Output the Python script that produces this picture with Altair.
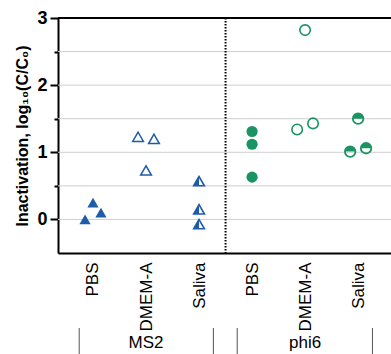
import altair as alt
import pandas as pd

# ---- data ----
media = ["PBS", "DMEM-A", "Saliva"]
viruses = ["MS2", "phi6"]
tick_labels = ["PBS", "DMEM-A", "Saliva", "PBS", "DMEM-A", "Saliva"]

ms2_pbs = [0.00, 0.25, 0.10]
ms2_dmem = [1.23, 1.20, 0.73]
ms2_saliva = [0.57, 0.15, -0.07]
phi6_pbs = [1.31, 1.12, 0.63]
phi6_dmem = [2.82, 1.34, 1.43]
phi6_saliva = [1.50, 1.01, 1.06]

jit_ms2_pbs = [-0.15, 0.0, 0.15]
jit_ms2_dmem = [-0.15, 0.15, 0.0]
jit_ms2_saliva = [0.0, 0.0, 0.0]
jit_phi6_pbs = [0.0, 0.0, 0.0]
jit_phi6_dmem = [0.0, -0.15, 0.15]
jit_phi6_saliva = [0.0, -0.15, 0.15]

rows = []
series = [
    ("MS2", "PBS", 1, ms2_pbs, jit_ms2_pbs),
    ("MS2", "DMEM-A", 2, ms2_dmem, jit_ms2_dmem),
    ("MS2", "Saliva", 3, ms2_saliva, jit_ms2_saliva),
    ("phi6", "PBS", 4, phi6_pbs, jit_phi6_pbs),
    ("phi6", "DMEM-A", 5, phi6_dmem, jit_phi6_dmem),
    ("phi6", "Saliva", 6, phi6_saliva, jit_phi6_saliva),
]
for v, m, pos, vals, jits in series:
    for val, j in zip(vals, jits):
        rows.append({"virus": v, "medium": m, "key": f"{v}|{m}", "x": pos + j, "y": val})
df = pd.DataFrame(rows)

group_centers = [2, 5]
bracket_edges = [0.74, 3.27, 3.72, 6.27]
grid_vals = [0, 0.5, 1, 1.5, 2, 2.5]

BLUE = "#1e5ba8"
GREEN = "#1a9462"
FONT = "Liberation Sans"

xscale = alt.Scale(domain=[0.34, 6.62], nice=False, zero=False)
yscale = alt.Scale(domain=[-0.5, 3], nice=False, zero=False)

label_expr = "[" + ",".join(f"'{t}'" for t in tick_labels) + "][datum.value-1]"

xaxis = alt.Axis(values=[1, 2, 3, 4, 5, 6], labelExpr=label_expr, labelAngle=270,
                 labelAlign="right", labelBaseline="middle", labelFontSize=17,
                 labelFont=FONT, labelColor="black", labelPadding=9, ticks=False,
                 grid=False, domainColor="black", domainWidth=2, title=None,
                 labelOverlap=False)

# grid + minor ticks axis
grid_df = pd.DataFrame({"y": grid_vals})
grid = alt.Chart(grid_df).mark_rule(color="#cfcfcf", strokeWidth=1).encode(
    y=alt.Y("y:Q", scale=yscale,
            axis=alt.Axis(values=[0.5, 1.5, 2.5], labels=False, tickSize=4, tickWidth=2,
                          tickColor="black", domain=False, grid=False, title=None,
                          orient="left")),
)

base = alt.Chart(df)
Xmain = alt.X("x:Q", scale=xscale, axis=xaxis)
X = alt.X("x:Q", scale=xscale)
Ymain = alt.Y("y:Q", scale=yscale,
              axis=alt.Axis(values=[0, 1, 2, 3], format="d", tickSize=8, tickWidth=2,
                            tickColor="black",
                            labelFontSize=18, labelFontWeight="bold", labelFont=FONT,
                            labelColor="black", labelPadding=3, domainColor="black",
                            domainWidth=2, grid=False, orient="left",
                            title="Inactivation, log\u2081\u2080(C/C\u2080)",
                            titleFont=FONT, titleFontSize=16, titleFontWeight="bold",
                            titleColor="black", titlePadding=6))
Y = alt.Y("y:Q", scale=yscale, axis=None)

def sel(k):
    return alt.datum.key == k

filled_tri = base.transform_filter(sel("MS2|PBS")).mark_point(
    shape="triangle-up", filled=True, size=125, color=BLUE, opacity=1).encode(x=Xmain, y=Ymain)
open_tri = base.transform_filter(sel("MS2|DMEM-A")).mark_point(
    shape="triangle-up", filled=False, size=115, color=BLUE, strokeWidth=1.5, opacity=1).encode(x=X, y=Y)
half_tri_o = base.transform_filter(sel("MS2|Saliva")).mark_point(
    shape="triangle-up", filled=False, size=115, color=BLUE, strokeWidth=1.6, opacity=1).encode(x=X, y=Y)
half_tri_f = base.transform_filter(sel("MS2|Saliva")).mark_point(
    shape="M0,-0.866L-1,0.866L0,0.866Z", filled=True, size=115, color=BLUE, opacity=1).encode(x=X, y=Y)

filled_c = base.transform_filter(sel("phi6|PBS")).mark_point(
    shape="circle", filled=True, size=125, color=GREEN, opacity=1).encode(x=X, y=Y)
open_c = base.transform_filter(sel("phi6|DMEM-A")).mark_point(
    shape="circle", filled=False, size=110, color=GREEN, strokeWidth=1.6, opacity=1).encode(x=X, y=Y)
half_c_o = base.transform_filter(sel("phi6|Saliva")).mark_point(
    shape="circle", filled=False, size=110, color=GREEN, strokeWidth=1.8, opacity=1).encode(x=X, y=Y)
half_c_f = base.transform_filter(sel("phi6|Saliva")).mark_point(
    shape="M-1,0A1,1,0,0,1,1,0Z", filled=True, size=110, color=GREEN, opacity=1).encode(x=X, y=Y)

top_line = alt.Chart(pd.DataFrame({"y": [3]})).mark_rule(color="black", strokeWidth=2).encode(
    y=alt.Y("y:Q", scale=yscale, axis=None))
divider = alt.Chart(pd.DataFrame({"x": [3.5]})).mark_rule(
    color="black", strokeWidth=2, strokeDash=[1.5, 1.5]).encode(x=alt.X("x:Q", scale=xscale))

brackets = alt.Chart(pd.DataFrame({"x": bracket_edges})).mark_rule(
    color="#555555", strokeWidth=1).encode(
    x=alt.X("x:Q", scale=xscale), y=alt.value(310), y2=alt.value(337))
group_text = alt.Chart(pd.DataFrame({"x": group_centers, "t": viruses})).mark_text(
    font=FONT, fontSize=17, color="black", baseline="alphabetic").encode(
    x=alt.X("x:Q", scale=xscale), y=alt.value(330), text="t:N")

chart = alt.layer(grid, filled_tri, open_tri, half_tri_o, half_tri_f, filled_c, open_c,
                  half_c_o, half_c_f, top_line, divider, brackets, group_text
                  ).resolve_axis(y="independent").properties(
    width=333, height=235,
    autosize=alt.AutoSizeParams(type="none"),
    padding={"left": 58, "top": 18, "right": 0, "bottom": 101},
).configure_view(stroke=None).configure(background="white")

chart.save("out.html", embed_options={"renderer": "svg", "actions": False})
